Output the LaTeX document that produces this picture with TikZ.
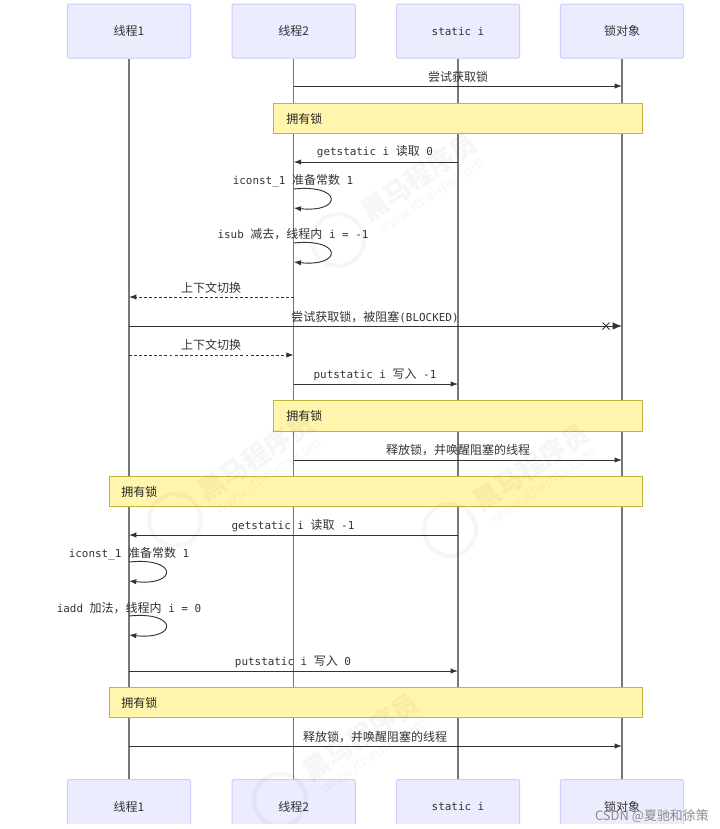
\documentclass[tikz,border=0pt]{standalone}
\usepackage{fontspec}
\usetikzlibrary{arrows.meta,calc}
\setmainfont{Noto Sans CJK SC}
\setmonofont{DejaVu Sans Mono}
\definecolor{actfill}{HTML}{ECECFF}
\definecolor{actline}{HTML}{CCCCFF}
\definecolor{notefill}{HTML}{FFF5AD}
\definecolor{noteline}{HTML}{BFB53C}
\definecolor{ink}{HTML}{333333}
\definecolor{lifegray}{HTML}{777777}
\tikzset{
  actor/.style={draw=actline,fill=actfill,rounded corners=1.5pt,line width=.75pt,minimum width=92.5pt,minimum height=40.5pt,inner sep=0pt,font=\fontsize{9}{11}\selectfont,text=ink},
  lifeline/.style={draw=lifegray,line width=1pt},
  msg/.style={draw=ink,line width=.7pt,-{Latex[length=5.5pt,width=4pt]}},
  dmsg/.style={msg,dash pattern=on 2.2pt off 1.6pt},
  bigtip/.style={msg,-{Latex[length=7pt,width=5.5pt]}},
  lbl/.style={inner sep=0pt,text=ink,font=\fontsize{9}{11}\selectfont},
  notebox/.style={draw=noteline,fill=notefill,line width=.75pt,inner sep=0pt,anchor=north west},
  notelbl/.style={inner sep=0pt,anchor=west,text=black!85,font=\fontsize{9}{11}\selectfont},
  wm/.style={text=black,opacity=.035,rotate=34,inner sep=0pt,font=\bfseries\fontsize{20}{24}\selectfont},
  wmsub/.style={text=black,opacity=.035,rotate=34,inner sep=0pt,font=\fontsize{11}{12}\selectfont},
  wmring/.style={draw=black,opacity=.035,line width=3pt},
}
\newcommand{\mono}[1]{{\ttfamily\fontsize{8.2}{11}\selectfont #1}}
\newcommand{\hmsg}[4][msg]{\draw[#1] (#2 |- 0,#4) -- (#3 |- 0,#4);}
\newcommand{\selfloop}[2]{%
  \draw[msg] (#1 |- 0,#2) .. controls ($(#1 |- 0,#2)+(49,-5)$) and ($(#1 |- 0,#2)+(49,24)$) .. ($(#1 |- 0,#2)+(0,19)$);}
\begin{document}
\begin{tikzpicture}[x=.75pt,y=-.75pt]
\useasboundingbox (0,0) rectangle (720,829);
% actors
\node[actor] (t1) at (129,31) {线程1};
\node[actor] (t2) at (293.7,31) {线程2};
\node[actor] (si) at (458,31) {\mono{static i}};
\node[actor] (lk) at (622,31) {锁对象};
\node[actor,anchor=north] (t1b) at (129,779) {线程1};
\node[actor,anchor=north] (t2b) at (293.7,779) {线程2};
\node[actor,anchor=north] (sib) at (458,779) {\mono{static i}};
\node[actor,anchor=north] (lkb) at (622,779) {锁对象};
% lifelines
\draw[lifeline] (t1) -- (t1b);
\draw[lifeline] (t2) -- (t2b);
\draw[lifeline] (si) -- (sib);
\draw[lifeline] (lk) -- (lkb);
% notes
\node[notebox,minimum width=277pt,minimum height=22.8pt] (n1) at (273,102.5) {};
\node[notelbl] (n1t) at (286,118.5) {拥有锁};
\node[notebox,minimum width=277pt,minimum height=22.8pt] (n2) at (273,400.3) {};
\node[notelbl] (n2t) at (286,416) {拥有锁};
\node[notebox,minimum width=400pt,minimum height=22.8pt] (n3) at (108.5,475.8) {};
\node[notelbl] (n3t) at (121,491.5) {拥有锁};
\node[notebox,minimum width=400pt,minimum height=22.8pt] (n4) at (108.5,687) {};
\node[notelbl] (n4t) at (121,703) {拥有锁};
% messages
\hmsg{t2}{lk}{86}
\node[lbl] (m1) at (458,77) {尝试获取锁};
\hmsg{si}{t2}{162}
\node[lbl] (m2) at (375,152) {\mono{getstatic i }读取\mono{ 0}};
\selfloop{t2}{189}
\node[lbl] (m3) at (293,181) {\mono{iconst\_1 }准备常数\mono{ 1}};
\selfloop{t2}{243}
\node[lbl] (m4) at (293,234.5) {\mono{isub }减去，线程内\mono{ i = -1}};
\hmsg[dmsg]{t2}{t1}{297}
\node[lbl] (m5) at (211,288) {上下文切换};
\hmsg[bigtip]{t1}{lk}{326}
\node[lbl] (m6) at (375,317) {尝试获取锁，被阻塞\mono{(BLOCKED)}};
\coordinate (xc) at (606,326);
\draw[ink,line width=.7pt] ($(xc)+(-3.5,-3.5)$) -- ($(xc)+(3.5,3.5)$) ($(xc)+(-3.5,3.5)$) -- ($(xc)+(3.5,-3.5)$);
\hmsg[dmsg]{t1}{t2}{355}
\node[lbl] (m7) at (211,345) {上下文切换};
\hmsg{t2}{si}{384}
\node[lbl] (m8) at (375,374.5) {\mono{putstatic i }写入\mono{ -1}};
\hmsg{t2}{lk}{460}
\node[lbl] (m9) at (458,450) {释放锁，并唤醒阻塞的线程};
\hmsg{si}{t1}{535}
\node[lbl] (m10) at (293,525.5) {\mono{getstatic i }读取\mono{ -1}};
\selfloop{t1}{562}
\node[lbl] (m11) at (129,554) {\mono{iconst\_1 }准备常数\mono{ 1}};
\selfloop{t1}{616}
\node[lbl] (m12) at (129,608) {\mono{iadd }加法，线程内\mono{ i = 0}};
\hmsg{t1}{si}{671}
\node[lbl] (m13) at (293,661.5) {\mono{putstatic i }写入\mono{ 0}};
\hmsg{t1}{lk}{746}
\node[lbl] (m14) at (375,737) {释放锁，并唤醒阻塞的线程};
% watermark, laid over everything
\foreach \cx/\cy in {338/240, 175/520, 450/530, 280/800}{
  \draw[wmring] (\cx,\cy) circle (26);
  \node[wm] at ({\cx+81},{\cy-63}) {黑马程序员};
  \node[wmsub] at ({\cx+93},{\cy-45}) {www.itheima.com};
}
% the reference ends in a white strip under the cut-off lower boxes
\fill[white] (0,824) rectangle (720,829);
% credit
\node[inner sep=0pt,anchor=east,text=black!45,font=\fontsize{9.7}{11}\selectfont] (csdn) at (709,816) {CSDN @夏驰和徐策};
\end{tikzpicture}
\end{document}
